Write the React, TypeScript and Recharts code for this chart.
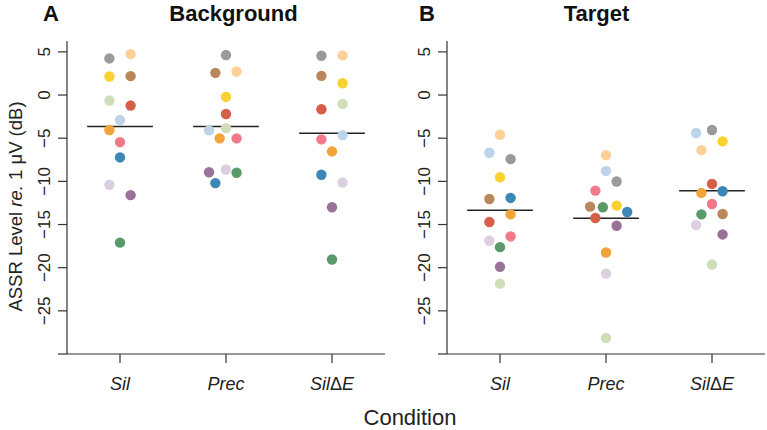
import React from "react";
import { ScatterChart, Scatter, XAxis, YAxis, ReferenceLine } from "recharts";

const FONT = "'Liberation Sans', Arial, Helvetica, sans-serif";

const conditions = ["Sil", "Prec", "SilΔE"];
const yTicks = [-30, -25, -20, -15, -10, -5, 0, 5];

// subject order: grey, peach, yellow, brown, sage, red, light blue, orange, pink, blue, lavender, purple, green
const subjectColors = [
  "#9a9a9a", "#fdd09a", "#f9d232", "#b9875a", "#cfddb8", "#d65f4a", "#bdd3e8",
  "#f2a33a", "#f3798a", "#3b87b5", "#dccfe0", "#9a7199", "#5a9a6a"
];

const backgroundSil = [4.24, 4.74, 2.15, 2.19, -0.64, -1.22, -2.9, -4.05, -5.45, -7.23, -10.4, -11.6, -17.1];
const backgroundPrec = [4.63, 2.73, -0.22, 2.57, -3.83, -2.2, -4.09, -5.02, -5.02, -10.2, -8.63, -8.94, -9.0];
const backgroundSilDE = [4.55, 4.59, 1.37, 2.22, -1.03, -1.65, -4.64, -6.53, -5.14, -9.24, -10.14, -13.0, -19.05];

const targetSil = [-7.43, -4.6, -9.52, -12.04, -21.85, -14.71, -6.69, -13.82, -16.38, -11.92, -16.88, -19.9, -17.62];
const targetPrec = [-10.02, -6.96, -12.81, -12.93, -28.13, -14.24, -8.78, -18.24, -11.07, -13.55, -20.69, -15.14, -13.0];
const targetSilDE = [-4.05, -6.38, -5.37, -13.78, -19.64, -10.3, -4.4, -11.34, -12.62, -11.15, -15.06, -16.15, -13.82];

// horizontal jitter (in category units) per subject
const bgSilJitter = [-0.1, 0.1, -0.1, 0.1, -0.1, 0.1, 0, -0.1, 0, 0, -0.1, 0.1, 0];
const bgPrecJitter = [0, 0.1, 0, -0.1, 0, 0, -0.16, -0.06, 0.1, -0.1, 0, -0.16, 0.1];
const bgSilDEJitter = [-0.1, 0.1, 0.1, -0.1, 0.1, -0.1, 0.1, 0, -0.1, -0.1, 0.1, 0, 0];
const tgSilJitter = [0.1, 0, 0, -0.1, 0, -0.1, -0.1, 0.1, 0.1, 0.1, -0.1, 0, 0];
const tgPrecJitter = [0.1, 0, 0.1, -0.15, 0, -0.1, 0, 0, -0.1, 0.2, 0, 0.1, -0.03];
const tgSilDEJitter = [0, -0.1, 0.1, 0.1, 0, 0, -0.15, -0.1, 0, 0.1, -0.15, 0.1, -0.1];

const XTick = (props: any) => {
  const { x, y, payload } = props;
  const parts = conditions[payload.value - 1].split("Δ");
  return (
    <text x={x} y={y + 25} textAnchor="middle" fontFamily={FONT} fontSize={18} fill="#222">
      <tspan fontStyle="italic">{parts[0]}</tspan>
      {parts.length > 1 && <tspan>Δ</tspan>}
      {parts.length > 1 && <tspan fontStyle="italic">{parts[1]}</tspan>}
    </text>
  );
};

const YTick = (props: any) => {
  const { x, y, payload } = props;
  if (payload.value === -30) return <g />;
  const label = payload.value < 0 ? "\u2212" + Math.abs(payload.value) : String(payload.value);
  return (
    <text x={x} y={y} transform={`rotate(-90, ${x}, ${y})`} textAnchor="middle" fontFamily={FONT} fontSize={17} fill="#222">
      {label}
    </text>
  );
};

const renderDot = (props: any) => (
  <circle cx={props.cx} cy={props.cy} r={5.2} fill={props.payload.color} />
);

type PanelProps = {
  left: number;
  width: number;
  rightMargin: number;
  values: number[][];
  jitter: number[][];
};

function Panel({ left, width, rightMargin, values, jitter }: PanelProps) {
  const points = values.flatMap((vals, ci) =>
    vals.map((v, si) => ({ x: ci + 1 + jitter[ci][si], y: v, color: subjectColors[si] }))
  );
  const means = values.map((vals) => vals.reduce((a, b) => a + b, 0) / vals.length);
  return (
    <div style={{ position: "absolute", left, top: 0 }}>
      <ScatterChart width={width} height={430} margin={{ top: 41, right: rightMargin, bottom: 0, left: 0 }}>
        <XAxis
          type="number"
          dataKey="x"
          domain={[0.5, 3.5]}
          ticks={[1, 2, 3]}
          interval={0}
          height={76}
          tickSize={9}
          tick={<XTick />}
          axisLine={{ stroke: "#333", strokeWidth: 1.2 }}
          tickLine={{ stroke: "#333", strokeWidth: 1.2 }}
          allowDataOverflow
        />
        <YAxis
          type="number"
          dataKey="y"
          domain={[-30, 6.26]}
          ticks={yTicks}
          interval={0}
          width={67}
          tickSize={9}
          tickMargin={8}
          tick={<YTick />}
          axisLine={{ stroke: "#333", strokeWidth: 1.2 }}
          tickLine={{ stroke: "#333", strokeWidth: 1.2 }}
          allowDataOverflow
        />
        {means.map((m, ci) => (
          <ReferenceLine
            key={ci}
            segment={[{ x: ci + 1 - 0.31, y: m }, { x: ci + 1 + 0.31, y: m }]}
            stroke="#222"
            strokeWidth={1.5}
          />
        ))}
        <Scatter data={points} isAnimationActive={false} shape={renderDot} />
      </ScatterChart>
    </div>
  );
}

export default function App() {
  return (
    <div style={{ position: "absolute", left: 0, top: 0, width: 767, height: 430, background: "#fff", fontFamily: FONT }}>
      <Panel
        left={0}
        width={390}
        rightMargin={5}
        values={[backgroundSil, backgroundPrec, backgroundSilDE]}
        jitter={[bgSilJitter, bgPrecJitter, bgSilDEJitter]}
      />
      <Panel
        left={380}
        width={387}
        rightMargin={2}
        values={[targetSil, targetPrec, targetSilDE]}
        jitter={[tgSilJitter, tgPrecJitter, tgSilDEJitter]}
      />
      <svg width={767} height={430} style={{ position: "absolute", left: 0, top: 0, pointerEvents: "none" }}>
        <g fontFamily={FONT} fill="#111">
          <text x={43} y={21} fontSize={22} fontWeight="bold">A</text>
          <text x={233.5} y={21} fontSize={22} fontWeight="bold" textAnchor="middle">Background</text>
          <text x={419} y={21} fontSize={22} fontWeight="bold">B</text>
          <text x={596.5} y={21} fontSize={22} fontWeight="bold" textAnchor="middle">Target</text>
          <text x={410} y={425} fontSize={22} textAnchor="middle" fill="#222">Condition</text>
          <text x={22} y={206.5} fontSize={18.5} textAnchor="middle" transform="rotate(-90, 22, 206.5)" fill="#222">
            ASSR Level <tspan fontStyle="italic">re.</tspan> 1 μV (dB)
          </text>
        </g>
      </svg>
    </div>
  );
}
